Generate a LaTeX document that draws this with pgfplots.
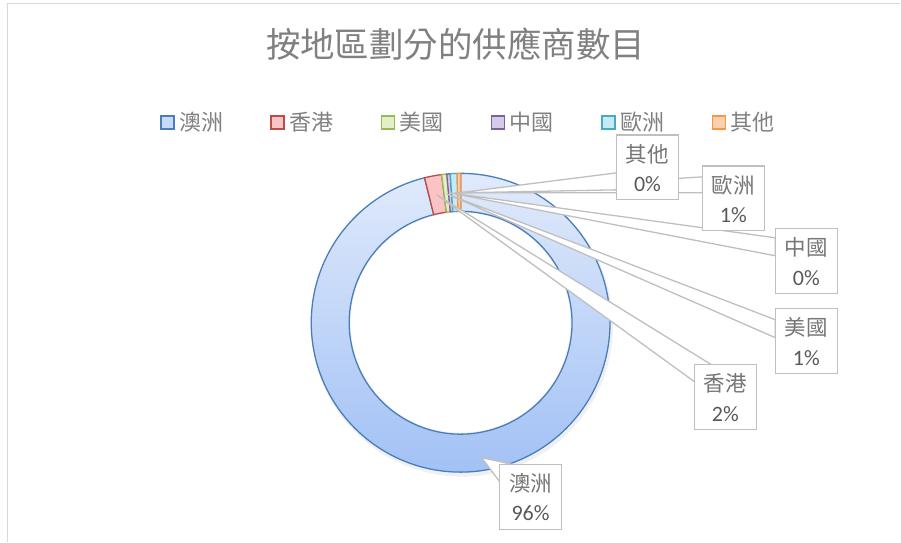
\documentclass[border=0pt]{standalone}
\usepackage{pgfplots}
\pgfplotsset{compat=1.18}
\usepackage{pgfplotstable}
\usepackage{fontspec}
\setmainfont{Carlito}
\newfontfamily\cjk{Noto Sans CJK TC}
\usetikzlibrary{calc}

\definecolor{b0}{RGB}{74,126,187}
\definecolor{b1}{RGB}{190,75,72}
\definecolor{b2}{RGB}{152,185,84}
\definecolor{b3}{RGB}{125,96,160}
\definecolor{b4}{RGB}{70,170,197}
\definecolor{b5}{RGB}{247,150,70}
\definecolor{f0t}{RGB}{224,234,251}
\definecolor{f0b}{RGB}{162,193,245}
\definecolor{f0}{RGB}{200,218,249}
\definecolor{f1}{RGB}{249,196,195}
\definecolor{f2}{RGB}{226,240,200}
\definecolor{f3}{RGB}{214,202,232}
\definecolor{f4}{RGB}{196,234,246}
\definecolor{f5}{RGB}{252,208,170}
\definecolor{gl}{RGB}{191,191,191}
\definecolor{frame}{RGB}{217,217,217}
\definecolor{txt}{RGB}{89,89,89}
\definecolor{ctxt}{RGB}{118,118,118}
\definecolor{ttl}{RGB}{128,128,128}

\pgfplotstableread{
idx value
0 520
1 10
2 3
3 2
4 4
5 2
}\slices

% callout: tipx tipy b1x b1y b2x b2y left top name pct
\newcommand\callout[9]{%
  \filldraw[fill=white, draw=gl, line width=1.3pt] (axis cs:#1,#2) -- (axis cs:#3,#4) -- (axis cs:#5,#6) -- cycle;
  \calloutbox{#7}{#8}{#9}}
\newcommand\calloutbox[4]{%
  \filldraw[fill=white, draw=gl, line width=1.3pt] (axis cs:#1,#2) rectangle (axis cs:#1+62,#2+65);
  \node[ctxt, inner sep=0pt, font=\fontsize{21.5}{24}\selectfont\cjk] at (axis cs:#1+31,#2+19) {#3};
  \node[txt, inner sep=0pt, font=\fontsize{22}{24}\selectfont] at (axis cs:#1+31,#2+49) {#4};}

\begin{document}
\begin{tikzpicture}
% slice angles from the data (clockwise from 12 o'clock)
\gdef\tmp{0}
\pgfplotstableforeachcolumnelement{value}\of\slices\as\v{%
  \pgfmathsetmacro\tmpb{\tmp+\v}\xdef\tmp{\tmpb}}
\xdef\total{\tmp}
\gdef\cum{0}
\pgfplotstableforeachcolumnelement{value}\of\slices\as\v{%
  \pgfmathsetmacro\sa{90-360*(\cum/\total)}%
  \pgfmathsetmacro\nc{\cum+\v}%
  \pgfmathsetmacro\ea{90-360*(\nc/\total)}%
  \expandafter\xdef\csname sA\pgfplotstablerow\endcsname{\sa}%
  \expandafter\xdef\csname eA\pgfplotstablerow\endcsname{\ea}%
  \xdef\cum{\nc}}
\begin{axis}[x=1pt, y=1pt, y dir=reverse, xmin=0, xmax=901, ymin=0, ymax=542,
  hide axis, clip=false, scale only axis]
\path (axis cs:0,0) rectangle (axis cs:901,542);
\draw[frame, line width=1.5pt] (axis cs:7.5,542) -- (axis cs:7.5,3.5) -- (axis cs:901,3.5);
% title
\node[ttl, inner sep=0pt, font=\fontsize{34.5}{38}\selectfont\cjk] at (axis cs:456,44) {按地區劃分的供應商數目};
% legend
\pgfplotsinvokeforeach{0,...,5}{
  \filldraw[fill=f#1, draw=b#1, line width=1.4pt] (axis cs:{161+110.4*#1},116) rectangle (axis cs:{174+110.4*#1},129);
}
\node[ttl, anchor=west, inner sep=0pt, font=\fontsize{22}{24}\selectfont\cjk] at (axis cs:179,122.5) {澳洲};
\node[ttl, anchor=west, inner sep=0pt, font=\fontsize{22}{24}\selectfont\cjk] at (axis cs:289.4,122.5) {香港};
\node[ttl, anchor=west, inner sep=0pt, font=\fontsize{22}{24}\selectfont\cjk] at (axis cs:399.8,122.5) {美國};
\node[ttl, anchor=west, inner sep=0pt, font=\fontsize{22}{24}\selectfont\cjk] at (axis cs:510.2,122.5) {中國};
\node[ttl, anchor=west, inner sep=0pt, font=\fontsize{22}{24}\selectfont\cjk] at (axis cs:620.6,122.5) {歐洲};
\node[ttl, anchor=west, inner sep=0pt, font=\fontsize{22}{24}\selectfont\cjk] at (axis cs:731,122.5) {其他};
% donut
\coordinate (c) at (axis cs:461,323);
\fill[black, opacity=0.06] ([shift={(1.5pt,-3pt)}]c) circle[radius=151pt];
\fill[white] (c) circle[radius=110pt];
\shade[top color=f0t, bottom color=f0b]
  ([shift={({\csname sA0\endcsname}:149.5pt)}]c) arc[start angle={\csname sA0\endcsname}, end angle={\csname eA0\endcsname}, radius=149.5pt]
  -- ([shift={({\csname eA0\endcsname}:111.5pt)}]c) arc[start angle={\csname eA0\endcsname}, end angle={\csname sA0\endcsname}, radius=111.5pt] -- cycle;
\draw[b0, line width=1.3pt]
  ([shift={({\csname sA0\endcsname}:149.5pt)}]c) arc[start angle={\csname sA0\endcsname}, end angle={\csname eA0\endcsname}, radius=149.5pt]
  -- ([shift={({\csname eA0\endcsname}:111.5pt)}]c) arc[start angle={\csname eA0\endcsname}, end angle={\csname sA0\endcsname}, radius=111.5pt] -- cycle;
\pgfplotsinvokeforeach{1,...,5}{
\filldraw[fill=f#1, draw=b#1, line width=1.3pt]
  ([shift={({\csname sA#1\endcsname}:149.5pt)}]c) arc[start angle={\csname sA#1\endcsname}, end angle={\csname eA#1\endcsname}, radius=149.5pt]
  -- ([shift={({\csname eA#1\endcsname}:111.5pt)}]c) arc[start angle={\csname eA#1\endcsname}, end angle={\csname sA#1\endcsname}, radius=111.5pt] -- cycle;
}
% callouts
\callout{482}{458}{500}{482}{514}{465}{500}{465}{澳洲}{96\%}
\callout{437}{195}{695}{382}{712}{365}{695}{365}{香港}{2\%}
\callout{447}{194}{776}{320}{776}{338}{776}{309}{美國}{1\%}
\callout{450}{193}{776}{238}{776}{256}{776}{229}{中國}{0\%}
\callout{455}{193}{703}{177}{703}{193}{703}{166}{歐洲}{1\%}
\callout{459}{193}{617}{173}{617}{190}{617}{135}{其他}{0\%}
\end{axis}
\end{tikzpicture}
\end{document}
